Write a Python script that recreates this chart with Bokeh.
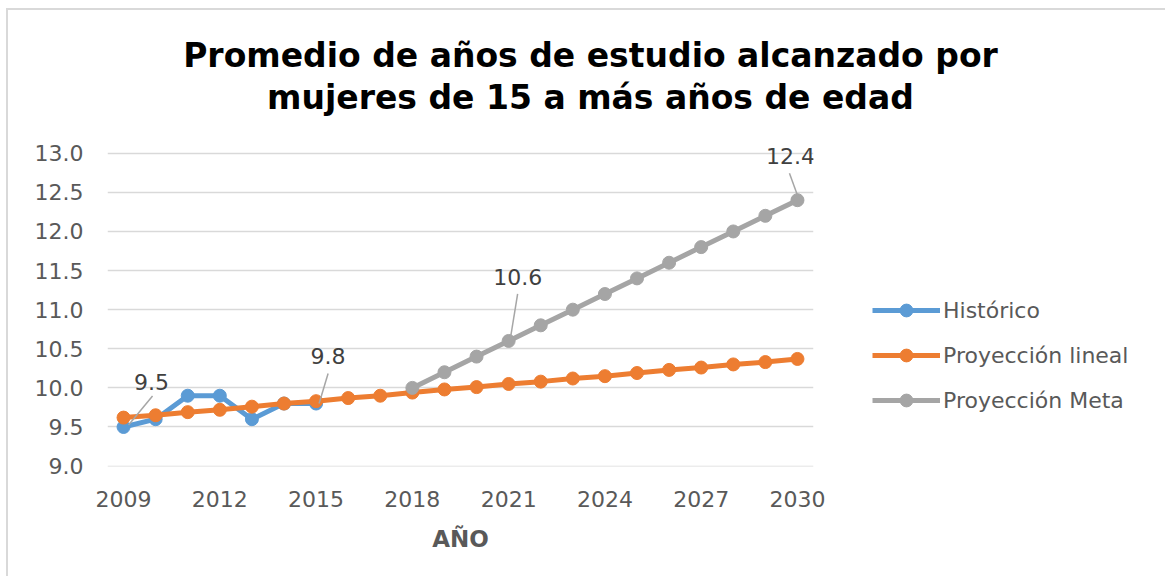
from bokeh.plotting import figure
from bokeh.layouts import column, row
from bokeh.models import (ColumnDataSource, FixedTicker, PrintfTickFormatter, Legend,
                          LegendItem, Range1d)
from bokeh.core.properties import value
from bokeh.embed import file_html
from bokeh.resources import INLINE

# ---------------- data ----------------
years_hist = [2009, 2010, 2011, 2012, 2013, 2014, 2015]
hist_vals = [9.5, 9.6, 9.9, 9.9, 9.6, 9.8, 9.8]

years_lin = list(range(2009, 2031))
lin_vals = [9.62, 9.65, 9.69, 9.72, 9.76, 9.80, 9.83, 9.87, 9.90, 9.94, 9.98,
            10.01, 10.05, 10.08, 10.12, 10.15, 10.19, 10.23, 10.26, 10.30, 10.33, 10.37]

years_meta = list(range(2018, 2031))
meta_vals = [10.0, 10.2, 10.4, 10.6, 10.8, 11.0, 11.2, 11.4, 11.6, 11.8, 12.0, 12.2, 12.4]

x_ticks = [2009, 2012, 2015, 2018, 2021, 2024, 2027, 2030]
y_ticks = [9.0, 9.5, 10.0, 10.5, 11.0, 11.5, 12.0, 12.5, 13.0]

series_names = ["Histórico", "Proyección lineal", "Proyección Meta"]
title_lines = ["Promedio de años de estudio alcanzado por",
               "mujeres de 15 a más años de edad"]
x_label = "AÑO"

# labelled points
label_years = [2009, 2015, 2021, 2030]
label_vals = [9.5, 9.8, 10.6, 12.4]

# ---------------- styling ----------------
BLUE = "#5B9BD5"
ORANGE = "#ED7D31"
GREY = "#A5A5A5"
TXT = "#595959"
FONT = "DejaVu Sans"
COLORS = [BLUE, ORANGE, GREY]

OX, OY = 8, 10       # offset of content inside the bordered box
TOP_H = 130 - OY     # title band height
MAIN_W = 840 - OX
LEG_W = 1165 - 840
MAIN_H = 576 - 130

# ---------------- title band ----------------
t = figure(width=1165 - OX, height=TOP_H, output_backend="svg", toolbar_location=None,
           x_range=Range1d(OX, 1165), y_range=Range1d(0, TOP_H),
           min_border=0, outline_line_color=None)
t.axis.visible = False
t.grid.visible = False
t.text(x=[590, 590], y=[130 - 55, 130 - 97], text=title_lines,
       text_font=value(FONT), text_font_size="33px", text_font_style="bold",
       text_color="#000000", text_align="center", text_baseline="middle")

# ---------------- main plot ----------------
p = figure(width=MAIN_W, height=MAIN_H, output_backend="svg", toolbar_location=None,
           x_range=Range1d(2008.5, 2030.5), y_range=Range1d(8.995, 13.15),
           min_border_left=107 - OX, min_border_right=840 - 813, min_border_top=11,
           min_border_bottom=MAIN_H - (466 - 130), outline_line_color=None)

p.xgrid.grid_line_color = None
p.ygrid.grid_line_color = "#d9d9d9"
p.ygrid.grid_line_width = 1.6
p.ygrid.ticker = FixedTicker(ticks=y_ticks)

p.yaxis.ticker = FixedTicker(ticks=y_ticks)
p.yaxis.formatter = PrintfTickFormatter(format="%.1f")
p.xaxis.ticker = FixedTicker(ticks=x_ticks)
for ax in (p.xaxis[0], p.yaxis[0]):
    ax.axis_line_color = None
    ax.major_tick_line_color = None
    ax.minor_tick_line_color = None
    ax.major_label_text_font = FONT
    ax.major_label_text_color = TXT
    ax.major_label_text_font_size = "22px"
p.yaxis.major_label_standoff = 18
p.xaxis.major_label_standoff = 18
p.xaxis.axis_label = x_label
p.xaxis.axis_label_text_font = FONT
p.xaxis.axis_label_text_font_size = "23px"
p.xaxis.axis_label_text_font_style = "bold"
p.xaxis.axis_label_text_color = TXT
p.xaxis.axis_label_standoff = 16

lw, ms = 5, 13
series = [(years_hist, hist_vals), (years_lin, lin_vals), (years_meta, meta_vals)]
for (xs, ys), c in zip(series, COLORS):
    p.line(xs, ys, line_color=c, line_width=lw)
    p.scatter(xs, ys, size=ms, fill_color=c, line_color=c)

# data labels with leader lines (offsets in pixels)
PX_X = 706 / 22.0   # pixels per year
PX_Y = 313 / 4.0    # pixels per unit
text_off = [(28, 45), (12, 48), (9, 64), (-7, 44)]
lead = [((5, 2), (29, 31)), ((3, 0), (12, 30)), ((2, 4), (9, 47)), ((0, 5), (-8, 27))]
x0s, y0s, x1s, y1s = [], [], [], []
for yr, v, ((a, b), (c, d)) in zip(label_years, label_vals, lead):
    x0s.append(yr + a / PX_X); y0s.append(v + b / PX_Y)
    x1s.append(yr + c / PX_X); y1s.append(v + d / PX_Y)
p.segment(x0s, y0s, x1s, y1s, line_color="#a6a6a6", line_width=1.5)
lab_src = ColumnDataSource(dict(x=label_years, y=label_vals,
                                t=["%.1f" % v for v in label_vals],
                                xo=[o[0] for o in text_off], yo=[-o[1] for o in text_off]))
p.text(x="x", y="y", text="t", x_offset="xo", y_offset="yo", source=lab_src,
       text_font=value(FONT), text_font_size="22px", text_color="#404040",
       text_align="center", text_baseline="middle")

# ---------------- legend panel ----------------
# the series are drawn again here only as legend proxies (outside the visible range)
lg = figure(width=LEG_W, height=MAIN_H, output_backend="svg", toolbar_location=None,
            x_range=Range1d(0, 1), y_range=Range1d(0, 1),
            min_border=0, outline_line_color=None)
lg.axis.visible = False
lg.grid.visible = False
items = []
for name, (xs, ys), c in zip(series_names, series, COLORS):
    rl = lg.line(xs, ys, line_color=c, line_width=lw)
    rc = lg.scatter(xs, ys, size=ms, fill_color=c, line_color=c)
    items.append(LegendItem(label=name, renderers=[rl, rc]))
legend = Legend(items=items, location=(872 - 840, 50), orientation="vertical",
                glyph_width=68, glyph_height=32, label_height=20, spacing=13,
                padding=0, margin=0, border_line_color=None, background_fill_alpha=0,
                label_text_font=FONT, label_text_font_size="22px",
                label_text_color=TXT, label_standoff=3)
lg.add_layout(legend, "center")

layout = column(t, row(p, lg, spacing=0), spacing=0)
layout.styles = {"border-top": "2px solid #d9d9d9", "border-left": "2px solid #d9d9d9",
                 "margin-left": "6px", "margin-top": "8px"}
open("out.html", "w").write(file_html(layout, INLINE))
